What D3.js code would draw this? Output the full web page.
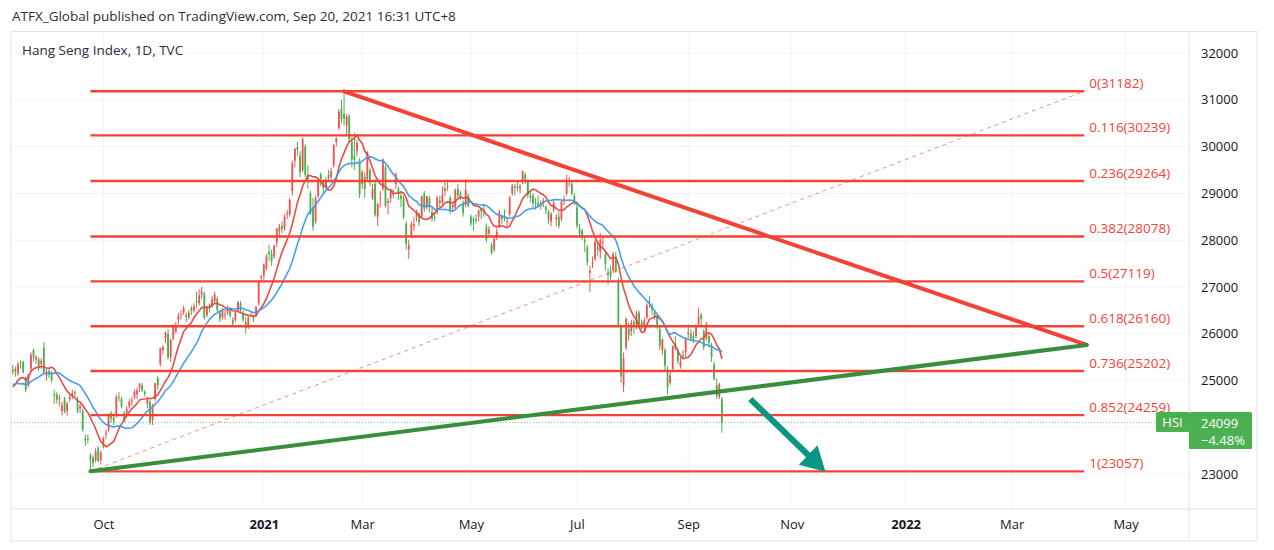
<!DOCTYPE html>
<html>
<head>
<meta charset="utf-8">
<script src="https://cdn.jsdelivr.net/npm/d3@7"></script>
<style>
    html, body { margin: 0; padding: 0; background: #ffffff; }
    svg { display: block; font-family: "Open Sans", sans-serif; }
</style>
</head>
<body>
<svg id="chart" width="1274" height="550"></svg>
<script>
"use strict";

// Page / panel layout
const width = 1274;
const height = 550;
const plot = { left: 11, top: 31.5, right: 1189, bottom: 509 };
const frame = { right: 1257, bottom: 541 };
const plotW = plot.right - plot.left;
const plotH = plot.bottom - plot.top;

// Colours
const upColor = "#ef5350";     // red = up (HK style)
const downColor = "#4caf50";   // green = down
const fibColor = "#f44336";

// ---- Data ----
// closes before the first visible bar (Jul 15 - Aug 12 2020), only used for the moving averages
const warmupCloses = [25481, 24971, 25089, 25058, 25636, 25057, 25263, 24705, 24603, 24772,
    24883, 24710, 24595, 24458, 24946, 25102, 25245, 24531, 24377, 24891, 25244];

// daily bars [open, high, low, close], first bar = 2020-08-13
const bars2020 = [
    // Aug
    [25200,25330,25130,25230],[25250,25300,25080,25183],[25150,25400,25100,25347],[25380,25430,25250,25367],
    [25400,25420,25150,25178],[25050,25080,24750,24791],[24900,25150,24850,25113],[25250,25600,25200,25551],
    [25650,25690,25400,25486],[25450,25550,25350,25491],[25450,25500,25200,25281],[25350,25480,25250,25422],
    [25700,25820,25150,25177],
    // Sep
    [25100,25250,25000,25184],[25200,25250,25050,25120],[25150,25200,24950,25008],[24700,24800,24500,24695],
    [24700,24750,24500,24589],[24600,24700,24450,24624],[24350,24550,24250,24469],[24600,24650,24300,24313],
    [24350,24550,24250,24503],[24600,24700,24550,24640],[24650,24800,24600,24732],[24750,24800,24650,24725],
    [24600,24650,24300,24340],[24400,24500,24300,24455],[24350,24400,23900,23950],[23750,23850,23600,23716],
    [23750,23850,23650,23742],[23400,23450,23057,23311],[23350,23400,23150,23235],[23300,23550,23250,23476],
    [23550,23600,23250,23275],[23300,23500,23200,23459],
    // Oct
    [23600,23800,23550,23767],[23850,23950,23750,23880],[23950,24300,23900,24242],[24300,24350,24100,24193],
    [24200,24300,24050,24119],[24250,24700,24200,24650],[24650,24750,24550,24649],[24600,24650,24400,24440],
    [24300,24350,24100,24158],[24300,24450,24200,24386],[24450,24600,24400,24542],[24550,24650,24450,24570],
    [24650,24800,24600,24754],[24700,24850,24600,24786],[24850,24950,24750,24918],[24900,24950,24750,24787],
    [24750,24800,24650,24708],[24500,24650,24400,24586],[24550,24600,24050,24107],
    // Nov
    [24150,24500,24050,24460],[24600,24950,24550,24939],[25050,25100,24800,24886],[25350,25700,25300,25695],
    [25650,25750,25550,25712],[25900,26050,25800,26016],[26000,26100,25450,25487],[25500,25900,25400,25866],
    [25900,26200,25850,26170],[26050,26250,26000,26157],[26300,26450,26200,26381],[26400,26500,26300,26415],
    [26450,26600,26400,26544],[26400,26450,26250,26356],[26350,26500,26300,26451],[26550,26600,26400,26486],
    [26500,26650,26450,26588],[26700,26900,26550,26669],[26650,26950,26600,26819],[26850,27000,26750,26894],
    [26850,26900,26300,26341],
    // Dec
    [26400,26600,26350,26567],[26600,26650,26450,26532],[26600,26800,26550,26728],[26700,26900,26650,26835],
    [26750,26800,26450,26506],[26450,26500,26250,26304],[26350,26550,26300,26502],[26400,26500,26300,26410],
    [26450,26600,26400,26506],[26500,26550,26350,26389],[26300,26350,26150,26207],[26300,26500,26250,26460],
    [26500,26700,26450,26678],[26650,26700,26450,26498],[26450,26500,26250,26306],[26250,26350,26000,26119],
    [26150,26400,26100,26343],[26400,26450,26350,26387],[26350,26400,26250,26315],[26400,26600,26350,26568],
    [26650,27150,26600,27147],[27200,27250,27100,27231]
];

const bars2021 = [
    // Jan
    [27250,27500,27150,27473],[27400,27700,27350,27649],[27750,27900,27550,27693],[27700,27800,27450,27548],
    [27650,27900,27600,27878],[27950,28250,27850,28246],[28200,28350,28050,28276],[28300,28400,28150,28235],
    [28250,28550,28200,28496],[28550,28650,28450,28573],[28550,28900,28500,28862],[29050,29700,28950,29642],
    [29700,29950,29550,29962],[30000,30100,29800,29927],[29800,29900,29350,29447],[29500,30200,29450,30159],
    [30000,30050,29350,29391],[29400,29600,29100,29297],[29000,29050,28550,28550],[28700,28900,28200,28284],
    // Feb
    [28400,28950,28350,28893],[28950,29300,28900,29249],[29400,29450,29150,29307],[29250,29300,29000,29114],
    [29150,29350,29050,29289],[29400,29500,29250,29320],[29350,29550,29300,29476],[29600,30050,29550,30038],
    [30100,30200,30000,30174],[30400,30800,30350,30746],[30800,31000,30500,30584],[30700,31182,30450,30595],
    [30450,30700,30250,30644],[30650,30700,30100,30156],[30100,30200,29550,29719],[29800,30300,29500,29718],
    [29900,30150,29800,30074],[29700,29750,28900,28980],
    // Mar
    [29200,29500,29100,29452],[29350,29450,28900,29095],[29300,29900,29250,29880],[29500,29550,29150,29236],
    [28900,29200,28850,29099],[29200,29300,28500,28541],[28500,28800,28300,28773],[28900,29050,28700,28907],
    [29100,29750,29050,29718],[29550,29600,28700,28739],[28800,28900,28550,28834],[28900,29100,28800,29028],
    [29050,29100,28900,29034],[29200,29450,29100,29405],[29100,29150,28850,28990],[28950,29050,28700,28885],
    [28900,28950,28450,28497],[28350,28400,27800,27918],[27800,28000,27600,27899],[28100,28400,28050,28336],
    [28300,28500,28200,28339],[28500,28650,28400,28577],[28550,28600,28300,28378],
    // Apr
    [28500,28950,28450,28939],[29000,29050,28600,28674],[28700,28950,28650,28938],[28900,28950,28600,28699],
    [28600,28700,28400,28453],[28500,28600,28400,28497],[28600,28950,28550,28900],[28850,28950,28700,28793],
    [28800,29150,28750,28970],[29050,29250,28950,29106],[29150,29300,29050,29136],[28900,28950,28550,28621],
    [28700,28800,28600,28755],[28700,29100,28650,29079],[29100,29200,28900,28952],[29000,29050,28850,28941],
    [28800,28850,28500,28574],[28750,29300,28700,29071],[28950,29000,28700,28725],
    // May
    [28500,28550,28300,28357],[28450,28500,28200,28418],[28450,28550,28350,28418],[28500,28650,28400,28637],
    [28650,28700,28450,28610],[28600,28750,28500,28596],[28300,28350,27950,28014],[28150,28300,28050,28231],
    [27900,27950,27700,27718],[27800,28100,27750,28027],[28050,28250,28000,28173],[28300,28650,28250,28594],
    [28500,28550,28350,28450],[28500,28650,28400,28458],[28400,28500,28300,28412],[28550,28950,28500,28910],
    [29000,29200,28950,29166],[29150,29200,28950,29113],[29150,29250,29050,29124],[29100,29200,29000,29152],
    // Jun
    [29250,29490,29200,29468],[29400,29450,29200,29297],[29250,29300,28900,28966],[28950,29050,28800,28919],
    [28950,29000,28700,28787],[28800,28900,28650,28781],[28800,28950,28700,28742],[28800,28850,28650,28739],
    [28800,28900,28700,28842],[28700,28750,28550,28638],[28600,28650,28350,28436],[28400,28600,28300,28559],
    [28650,28850,28600,28801],[28450,28550,28300,28489],[28500,28600,28250,28309],[28450,28850,28400,28818],
    [28850,28950,28750,28882],[29000,29400,28950,29288],[29250,29350,29150,29268],[29200,29250,28950,28994],
    [28950,29000,28750,28828],
    // Jul
    [28700,28750,28250,28310],[28250,28350,28050,28143],[28200,28250,28000,28073],[28000,28100,27750,27960],
    [27850,27900,27450,27528],[27300,27450,26900,27344],[27500,27650,27400,27515],[27600,28000,27550,27964],
    [27850,27950,27650,27787],[27750,28150,27600,27996],[27950,28100,27850,27963],[27700,27750,27350,27489],
    [27300,27400,27050,27259],[27350,27450,27150,27224],[27350,27750,27300,27705],[27650,27750,27300,27321],
    [27150,27200,26150,26192],[26150,26200,24950,25086],[24900,25600,24748,25473],[25700,26350,25650,26316],
    [26100,26250,25850,25961],
    // Aug
    [26050,26300,25950,26235],[26250,26300,26000,26194],[26200,26500,26100,26426],[26450,26500,26150,26205],
    [26250,26300,26100,26179],[26150,26350,26050,26283],[26350,26650,26300,26605],[26700,26800,26550,26661],
    [26600,26650,26400,26517],[26450,26500,26300,26391],[26350,26400,26100,26181],[26100,26150,25650,25745],
    [25650,25900,25550,25867],[25650,25700,25200,25316],[25200,25300,24700,24849],[24950,25200,24900,25109],
    [25250,25750,25200,25727],[25800,25950,25650,25693],[25650,25700,25350,25415],[25300,25500,25250,25407],
    [25550,25650,25450,25539],[25600,25900,25500,25879],
    // Sep
    [26000,26150,25900,26028],[26000,26100,25850,25901],[25950,26050,25800,25854],[25950,26200,25900,26163],
    [26200,26560,26150,26353],[26400,26450,26150,26320],[26050,26100,25650,25716],[25900,26250,25850,26205],
    [25950,26000,25700,25813],[25750,25800,25400,25502],[25350,25400,25000,25033],[24900,25050,24600,24667],
    [24650,24950,24600,24920],[24600,24650,23880,24099]
];

// exchange holidays (weekdays without a bar), incl. the ones projected on the future axis
const holidays = ["2020-10-01", "2020-10-02", "2020-10-26", "2020-12-25", "2021-01-01",
    "2021-02-12", "2021-02-15", "2021-04-02", "2021-04-05", "2021-04-06", "2021-05-19",
    "2021-06-14", "2021-07-01", "2021-09-22", "2021-10-01", "2021-10-14", "2021-12-27"];
const firstDay = "2020-08-13";
const lastAxisDay = "2022-06-30";

// Axis ticks
const priceTicks = [23000, 24000, 25000, 26000, 27000, 28000, 29000, 30000, 31000, 32000];
const timeTickMonths = ["2020-10", "2021-01", "2021-03", "2021-05", "2021-07", "2021-09",
    "2021-11", "2022-01", "2022-03", "2022-05"];
const timeTickLabels = ["Oct", "2021", "Mar", "May", "Jul", "Sep", "Nov", "2022", "Mar", "May"];

// Fibonacci retracement
const fibLevels = ["0", "0.116", "0.236", "0.382", "0.5", "0.618", "0.736", "0.852", "1"];
const fibPrices = [31182, 30239, 29264, 28078, 27119, 26160, 25202, 24259, 23057];
const fibSpan = ["2020-09-24", "2022-04-08"];

// Drawings: [date, price] anchors
const resistanceLine = [["2021-02-18", 31182], ["2022-04-11", 25760]];
const supportLine = [["2020-09-24", 23057], ["2022-04-11", 25760]];
const arrowLine = [["2021-10-07", 24600], ["2021-11-18", 23050]];

// Moving averages
const maPeriods = [10, 20];
const maColors = ["#e8423a", "#3f9be9"];

// Last price tag
const symbol = "HSI";
const lastPrice = 24099;
const lastChange = "\u22124.48%";

const headerText = "ATFX_Global published on TradingView.com, Sep 20, 2021 16:31 UTC+8";
const titleText = "Hang Seng Index, 1D, TVC";


// ---- Trading calendar (bar index per date) ----
function buildCalendar() {
    const off = new Set(holidays);
    const fmt = d3.utcFormat("%Y-%m-%d");
    const parse = d3.utcParse("%Y-%m-%d");
    const days = [];
    for (let d = parse(firstDay); d <= parse(lastAxisDay); d = d3.utcDay.offset(d, 1)) {
        const wd = d.getUTCDay();
        if (wd === 0 || wd === 6) continue;
        const key = fmt(d);
        if (off.has(key)) continue;
        days.push(key);
    }
    return days;
}

const calendar = buildCalendar();
const dayIndex = new Map(calendar.map((d, i) => [d, i]));
const monthIndex = (m) => calendar.findIndex(d => d.startsWith(m));

const candles = bars2020.concat(bars2021).map((b, i) => ({
    i: i, date: calendar[i], o: b[0], h: b[1], l: b[2], c: b[3]
}));

// simple moving average over the closes (warm-up closes first)
function sma(period) {
    const closes = warmupCloses.concat(candles.map(d => d.c));
    const offset = warmupCloses.length;
    return candles.map(d => {
        const end = offset + d.i;
        const win = closes.slice(Math.max(0, end - period + 1), end + 1);
        return { i: d.i, v: d3.mean(win) };
    });
}

// Scales
const xScale = d3.scaleLinear().domain([-0.7, 454.5]).range([0, plotW]);
const yScale = d3.scaleLinear().domain([22252, 32460]).range([plotH, 0]);
const px = (anchor) => [xScale(dayIndex.get(anchor[0])), yScale(anchor[1])];

const svg = d3.select("#chart");

// header texts
svg.append("text")
    .attr("x", 12).attr("y", 16)
    .attr("dominant-baseline", "central")
    .style("font-size", "13.5px").style("fill", "#2a2e39")
    .text(headerText);

// frame
svg.append("rect")
    .attr("x", plot.left).attr("y", plot.top)
    .attr("width", frame.right - plot.left).attr("height", frame.bottom - plot.top)
    .style("fill", "none").style("stroke", "#e0e3eb");
svg.append("line")
    .attr("x1", plot.right).attr("x2", plot.right).attr("y1", plot.top).attr("y2", frame.bottom)
    .style("stroke", "#e0e3eb");
svg.append("line")
    .attr("x1", plot.left).attr("x2", frame.right).attr("y1", plot.bottom).attr("y2", plot.bottom)
    .style("stroke", "#e0e3eb");

svg.append("defs").append("clipPath").attr("id", "plotClip")
    .append("rect").attr("width", plotW).attr("height", plotH);

const g = svg.append("g").attr("transform", `translate(${plot.left}, ${plot.top})`);
const inner = g.append("g").attr("clip-path", "url(#plotClip)");

// grid
const tickIdx = timeTickMonths.map(monthIndex);
inner.append("g").selectAll("line").data(tickIdx).join("line")
    .attr("x1", d => xScale(d)).attr("x2", d => xScale(d))
    .attr("y1", 0).attr("y2", plotH)
    .style("stroke", "#f0f3fa");
inner.append("g").selectAll("line").data(priceTicks).join("line")
    .attr("x1", 0).attr("x2", plotW)
    .attr("y1", d => yScale(d)).attr("y2", d => yScale(d))
    .style("stroke", "#f0f3fa");

// last price dotted line
inner.append("line")
    .attr("x1", 0).attr("x2", plotW)
    .attr("y1", yScale(lastPrice)).attr("y2", yScale(lastPrice))
    .style("stroke", downColor).style("stroke-width", 1)
    .style("stroke-dasharray", "1,2").style("opacity", 0.7);

// candles
const candleG = inner.append("g");
candleG.selectAll("line").data(candles).join("line")
    .attr("x1", d => xScale(d.i)).attr("x2", d => xScale(d.i))
    .attr("y1", d => yScale(d.h)).attr("y2", d => yScale(d.l))
    .style("stroke", d => d.c >= d.o ? upColor : downColor)
    .style("stroke-width", 1);
candleG.selectAll("rect").data(candles).join("rect")
    .attr("x", d => xScale(d.i) - 0.9)
    .attr("width", 1.8)
    .attr("y", d => yScale(Math.max(d.o, d.c)))
    .attr("height", d => Math.max(1, Math.abs(yScale(d.o) - yScale(d.c))))
    .style("fill", d => d.c >= d.o ? upColor : downColor);

// moving averages
const maLine = d3.line().x(d => xScale(d.i)).y(d => yScale(d.v));
maPeriods.forEach((p, k) => {
    inner.append("path")
        .attr("d", maLine(sma(p)))
        .style("fill", "none")
        .style("stroke", maColors[k])
        .style("stroke-width", 1.6)
        .style("opacity", 0.95);
});

// fibonacci levels
const fibX0 = xScale(dayIndex.get(fibSpan[0]));
const fibX1 = xScale(dayIndex.get(fibSpan[1]));
inner.append("g").selectAll("line").data(fibPrices).join("line")
    .attr("x1", fibX0).attr("x2", fibX1)
    .attr("y1", d => yScale(d)).attr("y2", d => yScale(d))
    .style("stroke", fibColor).style("stroke-width", 2.4);

// fib trend (dashed diagonal)
inner.append("line")
    .attr("x1", fibX0).attr("y1", yScale(fibPrices[fibPrices.length - 1]))
    .attr("x2", fibX1).attr("y2", yScale(fibPrices[0]))
    .style("stroke", fibColor).style("stroke-width", 1)
    .style("stroke-dasharray", "4,4").style("opacity", 0.6);

g.append("g").selectAll("text").data(fibPrices).join("text")
    .attr("x", fibX1 + 5)
    .attr("y", d => yScale(d) - 8)
    .attr("dominant-baseline", "central")
    .style("font-size", "13.5px").style("fill", fibColor)
    .text((d, i) => `${fibLevels[i]}(${d})`);

// trend lines
[[resistanceLine, "#f44336"], [supportLine, "#388e3c"]].forEach(([pts, color]) => {
    const a = px(pts[0]), b = px(pts[1]);
    inner.append("line")
        .attr("x1", a[0]).attr("y1", a[1]).attr("x2", b[0]).attr("y2", b[1])
        .style("stroke", color).style("stroke-width", 4)
        .style("stroke-linecap", "round");
});

// arrow
(function drawArrow() {
    const a = px(arrowLine[0]), b = px(arrowLine[1]);
    const dx = b[0] - a[0], dy = b[1] - a[1];
    const len = Math.hypot(dx, dy);
    const ux = dx / len, uy = dy / len;
    const headLen = 24, headHalf = 13.5, shaftHalf = 3;
    const bx = b[0] - ux * headLen, by = b[1] - uy * headLen;
    const nx = -uy, ny = ux;
    const pts = [
        [a[0] + nx * shaftHalf, a[1] + ny * shaftHalf],
        [bx + nx * shaftHalf, by + ny * shaftHalf],
        [bx + nx * headHalf, by + ny * headHalf],
        [b[0], b[1]],
        [bx - nx * headHalf, by - ny * headHalf],
        [bx - nx * shaftHalf, by - ny * shaftHalf],
        [a[0] - nx * shaftHalf, a[1] - ny * shaftHalf]
    ];
    inner.append("path")
        .attr("d", "M" + pts.map(p => p.join(",")).join("L") + "Z")
        .style("fill", "#0b9684");
})();

// title
svg.append("text")
    .attr("x", 22).attr("y", 50)
    .attr("dominant-baseline", "central")
    .style("font-size", "13.5px").style("fill", "#2a2e39")
    .text(titleText);

// price axis (the tick hidden behind the last-price tag is not labelled)
const tagY = plot.top + yScale(lastPrice);
const axisTicks = priceTicks.filter(t => Math.abs(plot.top + yScale(t) - tagY) > 25);
const yAxis = svg.append("g")
    .attr("transform", `translate(${plot.right}, ${plot.top})`)
    .call(d3.axisRight(yScale).tickValues(axisTicks).tickSize(0).tickPadding(12).tickFormat(d3.format("d")));
yAxis.select(".domain").remove();
yAxis.selectAll("text").style("font-size", "13px").style("fill", "#131722").style("font-family", "Open Sans");

// time axis
const xAxis = svg.append("g")
    .attr("transform", `translate(${plot.left}, ${plot.bottom})`)
    .call(d3.axisBottom(xScale).tickValues(tickIdx).tickSize(0).tickPadding(11)
        .tickFormat((d, i) => timeTickLabels[i]));
xAxis.select(".domain").remove();
xAxis.selectAll("text")
    .style("font-size", "13px").style("fill", "#131722").style("font-family", "Open Sans")
    .style("font-weight", (d, i) => /^\d{4}$/.test(timeTickLabels[i]) ? "bold" : "normal");

// last price tag
const tag = svg.append("g");
tag.append("rect")
    .attr("x", plot.right - 33).attr("y", tagY - 10.5)
    .attr("width", 33).attr("height", 20).attr("rx", 1.5)
    .style("fill", downColor);
tag.append("rect")
    .attr("x", plot.right).attr("y", tagY - 10.5)
    .attr("width", 63).attr("height", 37).attr("rx", 1.5)
    .style("fill", downColor);
tag.append("text")
    .attr("x", plot.right - 16.5).attr("y", tagY - 0.5)
    .attr("text-anchor", "middle").attr("dominant-baseline", "central")
    .style("font-size", "13px").style("fill", "#ffffff")
    .text(symbol);
tag.append("text")
    .attr("x", plot.right + 12).attr("y", tagY)
    .attr("dominant-baseline", "central")
    .style("font-size", "13px").style("fill", "#ffffff")
    .text(lastPrice);
tag.append("text")
    .attr("x", plot.right + 12).attr("y", tagY + 17)
    .attr("dominant-baseline", "central")
    .style("font-size", "13px").style("fill", "#ffffff")
    .text(lastChange);
</script>
</body>
</html>
